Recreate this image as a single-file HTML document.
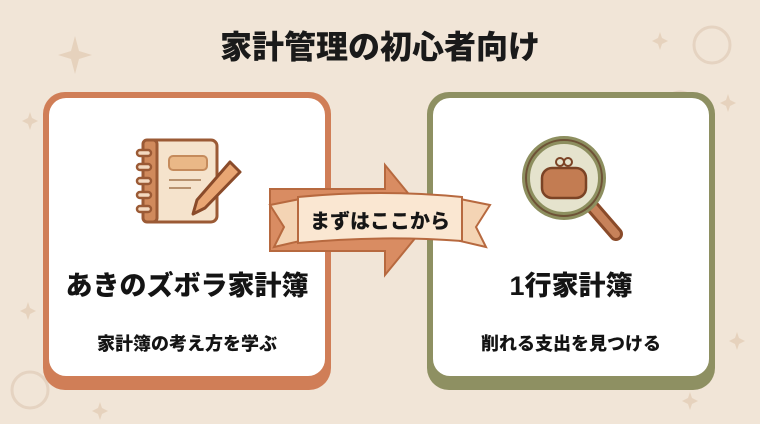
<!DOCTYPE html>
<html><head><meta charset="utf-8"><style>
html,body{margin:0;padding:0;}
body{width:760px;height:424px;overflow:hidden;background:#f1e5d7;font-family:"Liberation Sans","Noto Sans CJK JP",sans-serif;position:relative;}
.t{position:absolute;left:0;width:760px;text-align:center;font-weight:900;color:#1a1a1a;}
.card{position:absolute;top:92px;width:288px;height:298px;border-radius:22px;}
.inner{position:absolute;left:6px;top:6px;right:6px;bottom:14px;background:#fff;border-radius:17px;}
.lbl{position:absolute;text-align:center;font-weight:900;color:#141414;}
</style></head><body>
<svg width="760" height="424" style="position:absolute;left:0;top:0">
  <g fill="#e6d2bd">
    <path d="M75 36 L79 51 L92 55 L79 59 L75 74 L71 59 L58 55 L71 51Z"/>
    <path d="M30 112 L32 118 L38 121 L32 124 L30 130 L28 124 L22 121 L28 118Z"/>
    <path d="M660 32 L662 38 L668 41 L662 44 L660 50 L658 44 L652 41 L658 38Z"/>
    <path d="M728 94 L730 100 L736 103 L730 106 L728 112 L726 106 L720 103 L726 100Z"/>
    <path d="M28 302 L30 308 L36 311 L30 314 L28 320 L26 314 L20 311 L26 308Z"/>
    <path d="M737 332 L739 338 L745 341 L739 344 L737 350 L735 344 L729 341 L735 338Z"/>
    <path d="M100 402 L102 408 L108 411 L102 414 L100 420 L98 414 L92 411 L98 408Z"/>
    <path d="M690 392 L692 398 L698 401 L692 404 L690 410 L688 404 L682 401 L688 398Z"/>
  </g>
  <g fill="none" stroke="#e5d3c1" stroke-width="3">
    <circle cx="712" cy="45" r="18"/><circle cx="680" cy="108" r="16"/><circle cx="30" cy="390" r="18"/>
  </g>
</svg>
<div class="t" style="top:22px;font-size:32px;">家計管理の初心者向け</div>

<div class="card" style="left:43px;background:#d07e57;"><div class="inner"></div></div>
<div class="card" style="left:427px;background:#8e9062;"><div class="inner"></div></div>

<svg width="110" height="90" style="position:absolute;left:135px;top:136px" viewBox="0 0 110 90">
  <rect x="8" y="4" width="74" height="82" rx="6" fill="#f5e3cc" stroke="#9b5a35" stroke-width="3"/>
  <rect x="8" y="4" width="14" height="82" rx="4" fill="#d08a5c" stroke="#9b5a35" stroke-width="3"/>
  <g fill="#f3d9c0" stroke="#9b5a35" stroke-width="2.5">
    <rect x="2" y="14" width="14" height="6" rx="3"/><rect x="2" y="28" width="14" height="6" rx="3"/>
    <rect x="2" y="42" width="14" height="6" rx="3"/><rect x="2" y="56" width="14" height="6" rx="3"/><rect x="2" y="70" width="14" height="6" rx="3"/>
  </g>
  <rect x="34" y="20" width="38" height="14" rx="4" fill="#eab887" stroke="#c58b5c" stroke-width="2"/>
  <line x1="34" y1="44" x2="66" y2="44" stroke="#b7916e" stroke-width="2"/>
  <line x1="34" y1="52" x2="56" y2="52" stroke="#b7916e" stroke-width="2"/>
  <path d="M95 26 L105 36 L70 72 L58 78 L62 64Z" fill="#e9a673" stroke="#8a4b2a" stroke-width="3" stroke-linejoin="round"/>
</svg>

<svg width="120" height="110" style="position:absolute;left:512px;top:132px" viewBox="0 0 120 110">
  <line x1="78" y1="72" x2="104" y2="102" stroke="#8a4b2a" stroke-width="14" stroke-linecap="round"/>
  <line x1="78" y1="72" x2="104" y2="102" stroke="#c7825a" stroke-width="8" stroke-linecap="round"/>
  <circle cx="52" cy="46" r="38" fill="#e5e3cd" stroke="#8d8f5f" stroke-width="8"/>
  <circle cx="52" cy="46" r="38" fill="none" stroke="#6e5236" stroke-width="2"/>
  <rect x="30" y="36" width="44" height="30" rx="10" fill="#c37c52" stroke="#7b4325" stroke-width="2.5"/>
  <circle cx="48" cy="30" r="4" fill="none" stroke="#7b4325" stroke-width="2"/><circle cx="56" cy="30" r="4" fill="none" stroke="#7b4325" stroke-width="2"/>
</svg>

<svg width="240" height="130" style="position:absolute;left:260px;top:155px" viewBox="0 0 240 130">
  <path d="M10 34 L125 34 L125 10 L170 65 L125 120 L125 96 L10 96Z" fill="#d98c62" stroke="#b7693f" stroke-width="2"/>
  <path d="M10 50 L40 44 L40 86 L14 92 L24 72Z" fill="#f4d4b4" stroke="#b7693f" stroke-width="2"/>
  <path d="M230 50 L200 44 L200 86 L226 92 L216 72Z" fill="#f4d4b4" stroke="#b7693f" stroke-width="2"/>
  <path d="M38 42 Q120 34 202 42 L202 86 Q120 80 38 88Z" fill="#fae7d2" stroke="#b7693f" stroke-width="2"/>
  <text x="120" y="73" text-anchor="middle" font-size="20" font-weight="900" fill="#161616" font-family="Liberation Sans, Noto Sans CJK JP, sans-serif">まずはここから</text>
</svg>

<div class="lbl" style="left:43px;width:288px;top:264px;font-size:27px;">あきのズボラ家計簿</div>
<div class="lbl" style="left:43px;width:288px;top:330px;font-size:18px;">家計簿の考え方を学ぶ</div>
<div class="lbl" style="left:427px;width:288px;top:264px;font-size:27px;">1行家計簿</div>
<div class="lbl" style="left:427px;width:288px;top:330px;font-size:18px;">削れる支出を見つける</div>
</body></html>
